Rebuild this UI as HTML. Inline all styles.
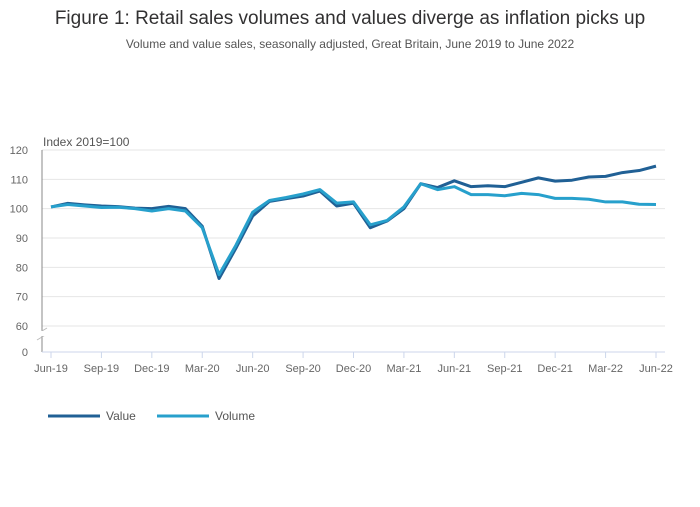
<!DOCTYPE html>
<html><head><meta charset="utf-8"><style>
body{margin:0;background:#fff;font-family:"Liberation Sans",sans-serif;}
svg text{font-family:"Liberation Sans",sans-serif;}
</style></head><body>
<svg width="700" height="502" xmlns="http://www.w3.org/2000/svg">
<text x="350" y="24" text-anchor="middle" font-size="19" fill="#323132">Figure 1: Retail sales volumes and values diverge as inflation picks up</text>
<text x="350" y="48" text-anchor="middle" font-size="12" fill="#555">Volume and value sales, seasonally adjusted, Great Britain, June 2019 to June 2022</text>
<text x="43" y="146" font-size="12" fill="#555">Index 2019=100</text>
<g id="grid"></g>
<g id="yt"></g>
<g id="xt"></g>
<line x1="42" y1="150" x2="42" y2="352" stroke="#888"/>
<line x1="37" y1="334" x2="47" y2="328" stroke="#bbb"/>
<line x1="37" y1="340" x2="47" y2="334" stroke="#bbb"/>
<rect x="36" y="331" width="12" height="5" fill="#fff"/>
<line x1="42" y1="352" x2="665" y2="352" stroke="#ccd6eb"/>
<g id="lines"></g>
<line x1="48" y1="416" x2="100" y2="416" stroke="#206095" stroke-width="3"/>
<text x="106" y="420" font-size="12" fill="#555">Value</text>
<line x1="157" y1="416" x2="209" y2="416" stroke="#27a0cc" stroke-width="3"/>
<text x="215" y="420" font-size="12" fill="#555">Volume</text>
</svg>
<script>
const xLabels=["Jun-19","Sep-19","Dec-19","Mar-20","Jun-20","Sep-20","Dec-20","Mar-21","Jun-21","Sep-21","Dec-21","Mar-22","Jun-22"];
const yTicks=[60,70,80,90,100,110,120];
const valueSeries=[100.6,101.8,101.3,100.9,100.7,100.2,100.0,100.8,100.0,94.0,76.2,86.5,97.5,102.5,103.4,104.3,106.0,100.9,101.9,93.5,95.8,100.0,108.5,107.2,109.5,107.5,107.8,107.5,109.0,110.5,109.4,109.7,110.8,111.0,112.3,113.0,114.5];
const volumeSeries=[100.6,101.4,100.9,100.4,100.5,100.0,99.2,100.0,99.2,93.5,77.5,87.5,98.8,102.8,103.8,105.0,106.5,101.9,102.3,94.5,96.0,100.6,108.5,106.5,107.5,104.8,104.8,104.4,105.2,104.8,103.5,103.5,103.2,102.3,102.3,101.5,101.4];
const NS="http://www.w3.org/2000/svg";
const x=i=>51+i*(656-51)/36;
const y=v=>326-(v-60)*(326-150)/60;
function mk(tag,attrs,parent){const e=document.createElementNS(NS,tag);for(const k in attrs)e.setAttribute(k,attrs[k]);document.getElementById(parent).appendChild(e);return e;}
yTicks.forEach(t=>{
  const g=mk('line',{x1:42,x2:665,y1:y(t),y2:y(t),stroke:'#e6e6e6'},'grid');
  
  
  const l=mk('text',{x:28,y:y(t)+4,'text-anchor':'end','font-size':11,fill:'#666'},'yt');
  l.textContent=t;
  
  
});
const z=mk('text',{x:28,y:356,'text-anchor':'end','font-size':11,fill:'#666'},'yt');z.textContent='0';


xLabels.forEach((s,k)=>{
  const xi=x(k*3);
  mk('line',{x1:xi,x2:xi,y1:352,y2:358,stroke:'#ccd6eb'},'xt');
  const l=mk('text',{x:xi,y:372,'text-anchor':'middle','font-size':11,fill:'#666'},'xt');
  l.textContent=s;
  
  
});
function line(data,color,name){
  const p=mk('polyline',{points:data.map((v,i)=>x(i)+','+y(v)).join(' '),fill:'none',stroke:color,'stroke-width':3,'stroke-linejoin':'round'},'lines');
  
  
}
line(valueSeries,'#206095','value-line');
line(volumeSeries,'#27a0cc','volume-line');
</script>
</body></html>
